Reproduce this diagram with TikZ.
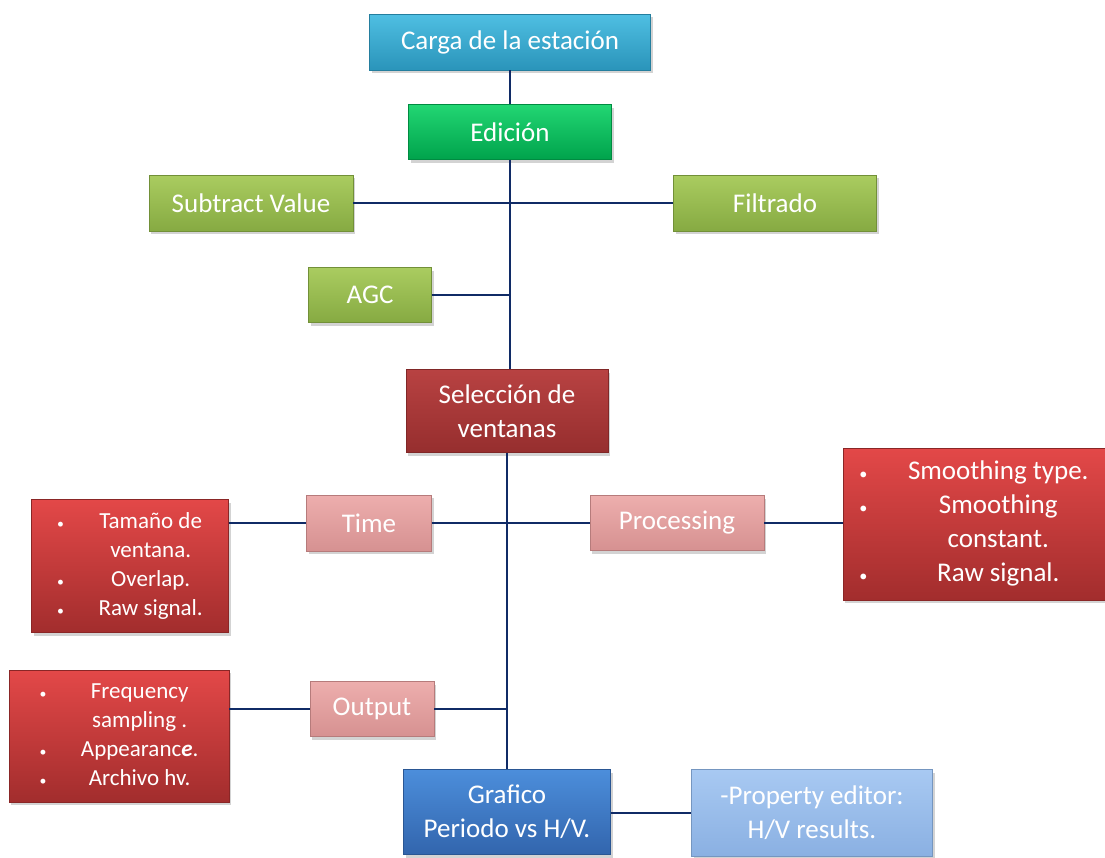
\documentclass[tikz,border=0pt]{standalone}
\usepackage{fontspec}
\setmainfont{Carlito}
\usetikzlibrary{shadows}

\definecolor{cargaT}{HTML}{4FBFE2}
\definecolor{cargaB}{HTML}{2A94BA}
\definecolor{edT}{HTML}{22D673}
\definecolor{edB}{HTML}{00A34C}
\definecolor{oliveT}{HTML}{AACC60}
\definecolor{oliveB}{HTML}{86AA42}
\definecolor{selT}{HTML}{B84242}
\definecolor{selB}{HTML}{962E2E}
\definecolor{listT}{HTML}{E34848}
\definecolor{listB}{HTML}{A22D2D}
\definecolor{pinkT}{HTML}{EDAEAD}
\definecolor{pinkB}{HTML}{D69191}
\definecolor{grafT}{HTML}{4C8EDB}
\definecolor{grafB}{HTML}{3265AD}
\definecolor{propT}{HTML}{A8C9F2}
\definecolor{propB}{HTML}{8AB0E2}
\definecolor{linea}{HTML}{102B66}

\tikzset{
    box/.style={rectangle, text=white, align=center, inner sep=2pt,
        font=\fontsize{27}{34}\selectfont,
        drop shadow={shadow xshift=2pt, shadow yshift=-3pt, opacity=0.35}},
    conn/.style={draw=linea, line width=2pt}
}

\newcommand{\punto}{\scalebox{0.6}{\textbullet}}
\newcommand{\lista}[1]{\begin{tabular}{@{}c@{\hspace{1.5em}}c@{}}#1\end{tabular}}

\begin{document}
\begin{tikzpicture}[x=1pt,y=-1pt]
    \useasboundingbox (0,0) rectangle (1105,857);
    % cadena principal
    \node[box, top color=cargaT, bottom color=cargaB, draw=cargaB!85!black, minimum width=281, minimum height=56] (carga) at (510,42) {Carga de la estación};
    \node[box, top color=edT, bottom color=edB, draw=edB!85!black, minimum width=203, minimum height=55] (edicion) at (510,132) {Edición};
    \node[box, top color=oliveT, bottom color=oliveB, draw=oliveB!85!black, minimum width=204, minimum height=56] (subtract) at (251,203) {Subtract Value};
    \node[box, top color=oliveT, bottom color=oliveB, draw=oliveB!85!black, minimum width=203, minimum height=56] (filtrado) at (775,203) {Filtrado};
    \node[box, top color=oliveT, bottom color=oliveB, draw=oliveB!85!black, minimum width=123, minimum height=55] (agc) at (370,295) {AGC};
    \node[box, top color=selT, bottom color=selB, draw=selB!85!black, minimum width=202, minimum height=83] (seleccion) at (507,411) {Selección de\\ventanas};
    % parametros
    \node[box, top color=pinkT, bottom color=pinkB, draw=pinkB!85!black, minimum width=125, minimum height=56] (time) at (369,523) {Time};
    \node[box, top color=pinkT, bottom color=pinkB, draw=pinkB!85!black, minimum width=174, minimum height=55] (processing) at (677,523) {Processing};
    \node[box, top color=pinkT, bottom color=pinkB, draw=pinkB!85!black, minimum width=124, minimum height=55] (output) at (372,709) {Output};
    \node[box, top color=listT, bottom color=listB, draw=listB!85!black, minimum width=197, minimum height=133, font=\fontsize{23}{29}\selectfont] (tamano) at (130,566) {\lista{\punto & Tamaño de\\ & ventana.\\ \punto & Overlap.\\ \punto & Raw signal.}};
    \node[box, top color=listT, bottom color=listB, draw=listB!85!black, minimum width=262, minimum height=152] (smoothing) at (974,524) {\lista{\punto & Smoothing type.\\ \punto & Smoothing\\ & constant.\\ \punto & Raw signal.}};
    \node[box, top color=listT, bottom color=listB, draw=listB!85!black, minimum width=220, minimum height=132, font=\fontsize{23}{29}\selectfont] (frecuencia) at (119,736) {\lista{\punto & Frequency\\ & sampling .\\ \punto & Appearanc\textbf{\textit{e}}.\\ \punto & Archivo hv.}};
    % resultado
    \node[box, top color=grafT, bottom color=grafB, draw=grafB!85!black, minimum width=207, minimum height=85] (grafico) at (507,812) {Grafico\\Periodo vs H/V.};
    \node[box, top color=propT, bottom color=propB, draw=propB!85!black, minimum width=241, minimum height=87] (property) at (812,813) {-Property editor:\\H/V results.};

    % conexiones
    \draw[conn] (carga) -- (edicion);
    \draw[conn] (edicion.south) -- (edicion.south |- seleccion.north);
    \draw[conn] (subtract) -- (filtrado);
    \draw[conn] (agc.east) -- (agc.east -| edicion.south);
    \draw[conn] (seleccion) -- (grafico);
    \draw[conn] (time) -- (processing);
    \draw[conn] (tamano.east |- time) -- (time);
    \draw[conn] (processing) -- (smoothing.west |- processing);
    \draw[conn] (output.east) -- (output.east -| seleccion.south);
    \draw[conn] (frecuencia.east |- output) -- (output);
    \draw[conn] (grafico.east |- property) -- (property);
\end{tikzpicture}
\end{document}
